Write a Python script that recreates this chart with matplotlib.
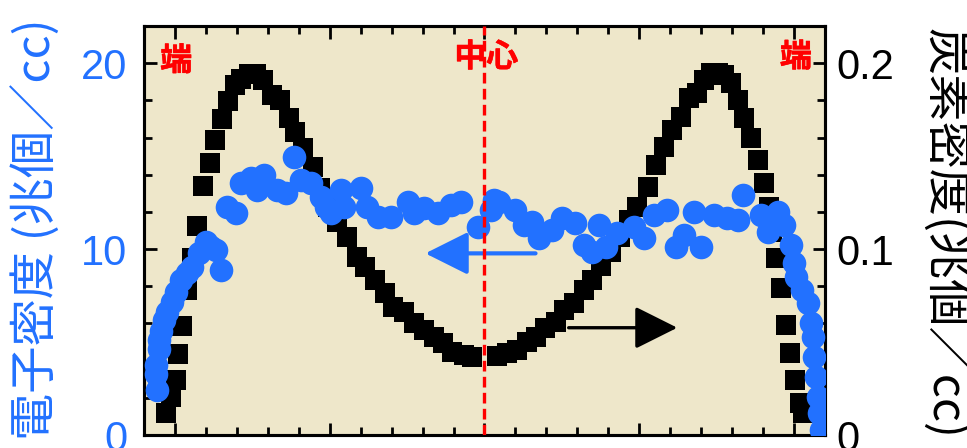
import numpy as np
import matplotlib
matplotlib.use("Agg")
import matplotlib.pyplot as plt
import matplotlib.patheffects as pe
from matplotlib.ticker import MultipleLocator

plt.rcParams['font.family'] = ['Liberation Sans', 'Noto Sans CJK JP', 'DejaVu Sans']

# carbon density (right axis)
carbon_x = [-10.30, -10.13, -9.97, -9.90, -9.77, -9.61, -9.44, -9.28, -9.09, -8.88,
            -8.71, -8.49, -8.28, -8.07, -7.85, -7.61, -7.39, -7.14, -6.87, -6.60,
            -6.33, -6.12, -5.85, -5.54, -5.31, -5.04, -4.76, -4.44, -4.12, -3.85,
            -3.53, -3.20, -2.94, -2.61, -2.29, -1.96, -1.64, -1.34, -1.05, -0.67,
            -0.40, 0.39, 0.73, 1.06, 1.38, 1.65, 1.97, 2.30, 2.57, 2.89,
            3.21, 3.49, 3.75, 4.08, 4.37, 4.67, 4.94, 5.27, 5.53, 5.80,
            6.07, 6.34, 6.61, 6.88, 7.10, 7.31, 7.53, 7.74, 7.96, 8.18,
            8.39, 8.61, 8.83, 9.02, 9.20, 9.30, 9.42, 9.58, 9.74, 9.88,
            10.03, 10.18, 10.28]
carbon_y = [0.0118, 0.0204, 0.0296, 0.0435, 0.0586, 0.0780, 0.0952, 0.1124, 0.1339, 0.1462,
            0.1586, 0.1699, 0.1796, 0.1882, 0.1914, 0.1941, 0.1941, 0.1909, 0.1828, 0.1801,
            0.1704, 0.1629, 0.1543, 0.1441, 0.1328, 0.1226, 0.1145, 0.1065, 0.0957, 0.0903,
            0.0833, 0.0763, 0.0688, 0.0661, 0.0602, 0.0565, 0.0527, 0.0495, 0.0446, 0.0430,
            0.0419, 0.0425, 0.0441, 0.0457, 0.0500, 0.0527, 0.0575, 0.0608, 0.0672, 0.0710,
            0.0780, 0.0833, 0.0909, 0.0984, 0.1065, 0.1156, 0.1226, 0.1333, 0.1452, 0.1548,
            0.1640, 0.1710, 0.1812, 0.1839, 0.1909, 0.1946, 0.1946, 0.1935, 0.1892, 0.1801,
            0.1704, 0.1597, 0.1478, 0.1355, 0.1226, 0.1091, 0.0952, 0.0790, 0.0591, 0.0441,
            0.0296, 0.0172, 0.0118]

# electron density (left axis)
elec_x = [-10.57, -10.62, -10.60, -10.52, -10.52, -10.45, -10.36, -10.25, -10.09, -9.95,
          -9.82, -9.60, -9.44, -9.22, -9.01, -8.85, -8.68, -8.52, -8.31, -8.04,
          -7.87, -7.55, -7.34, -7.12, -6.69, -6.42, -6.15, -5.93, -5.61, -5.28,
          -5.12, -4.96, -4.64, -4.53, -3.99, -3.78, -3.45, -3.02, -2.48, -2.27,
          -1.94, -1.51, -1.08, -0.75, -0.22, 0.22, 0.32, 0.46, 1.00, 1.27,
          1.54, 1.76, 2.19, 2.51, 2.94, 3.21, 3.49, 3.70, 3.92, 4.29,
          4.83, 5.16, 5.48, 5.91, 6.18, 6.45, 6.77, 6.99, 7.42, 7.85,
          8.18, 8.34, 8.93, 9.15, 9.47, 9.69, 9.90, 10.01, 10.06, 10.25,
          10.44, 10.55, 10.60, 10.66, 10.71, 10.77, 10.82, 10.87]
elec_y = [2.42, 3.30, 3.76, 4.60, 5.11, 5.60, 6.18, 6.60, 7.17, 7.70,
          8.33, 8.70, 9.05, 9.77, 10.39, 10.10, 9.95, 8.87, 12.27, 11.92,
          13.53, 13.80, 13.17, 13.98, 13.17, 13.00, 14.96, 13.71, 13.53, 12.81,
          12.27, 11.92, 13.17, 12.27, 13.26, 12.27, 11.74, 11.74, 12.54, 11.92,
          12.19, 11.92, 12.37, 12.54, 11.20, 12.10, 12.63, 12.54, 12.10, 11.29,
          11.47, 10.58, 11.02, 11.65, 11.38, 10.22, 9.86, 11.29, 10.12, 10.84,
          11.20, 10.58, 11.83, 12.10, 10.12, 10.75, 12.01, 10.12, 11.83, 11.65,
          11.56, 12.90, 11.83, 10.93, 12.01, 11.30, 10.20, 9.23, 8.50, 7.80,
          7.08, 6.00, 5.28, 4.21, 3.13, 2.06, 1.17, 0.27]

blue = '#2271FF'
bg = '#EEE7CA'

fig = plt.figure(figsize=(9.67, 4.48), dpi=100)
ax = fig.add_axes([0.1489, 0.029, 0.7042, 0.913])
ax2 = ax.twinx()
ax.set_facecolor(bg)

# black squares on the bottom axes (right scale), blue circles on the twin
ax.plot(carbon_x, carbon_y, 's', ms=15, color='black', mew=0, zorder=3)
ax2.plot(elec_x, elec_y, 'o', ms=17, color=blue, mew=0, zorder=3)

ax.set_xlim(-11, 11)
ax.set_ylim(0, 0.22)
ax2.set_ylim(0, 22)

ax.yaxis.tick_right()
ax2.yaxis.tick_left()

ax.set_xticks([-10, -5, 0, 5, 10])
ax.xaxis.set_minor_locator(MultipleLocator(1))
ax.set_yticks([0, 0.1, 0.2])
ax.set_yticklabels(['0', '0.1', '0.2'])
ax.yaxis.set_minor_locator(MultipleLocator(0.02))
ax2.set_yticks([0, 10, 20])
ax2.yaxis.set_minor_locator(MultipleLocator(2))

for a in (ax, ax2):
    a.tick_params(which='major', direction='in', length=9, width=2, labelsize=30, pad=10)
    a.tick_params(which='minor', direction='in', length=5.5, width=2)
    for s in a.spines.values():
        s.set_linewidth(2.2)
ax.tick_params(axis='x', which='both', top=True, bottom=True, labelbottom=False)
ax2.tick_params(axis='y', which='both', labelcolor=blue, pad=12)
ax.tick_params(axis='y', which='both', pad=8)

# center line and markers
ax2.axvline(0, color='red', lw=2.4, dashes=(3.2, 1.6), zorder=10)
jp = ['Noto Sans CJK JP']
thick = [pe.withStroke(linewidth=0.4, foreground='red')]
ax2.text(-9.96, 20.1, '端', color='red', fontsize=23, fontweight='bold', family=jp,
         ha='center', va='center', zorder=11, path_effects=thick)
ax2.text(0.06, 20.3, '中心', color='red', fontsize=23, fontweight='bold', family=jp,
         ha='center', va='center', zorder=11, path_effects=thick)
ax2.text(10.06, 20.3, '端', color='red', fontsize=23, fontweight='bold', family=jp,
         ha='center', va='center', zorder=11, path_effects=thick)

# arrows pointing to their axis
ax2.annotate('', xy=(-1.91, 9.77), xytext=(1.65, 9.77),
             arrowprops=dict(arrowstyle='-|>,head_length=0.4,head_width=0.2',
                             mutation_scale=66, lw=3, color=blue,
                             shrinkA=0, shrinkB=0), zorder=5)
ax.annotate('', xy=(6.23, 0.0577), xytext=(2.72, 0.0577),
            arrowprops=dict(arrowstyle='-|>,head_length=0.4,head_width=0.2',
                            mutation_scale=66, lw=2.4, color='black',
                            shrinkA=0, shrinkB=0), zorder=5)

fig.text(37 / 967, 1 - 229 / 448, '電子密度 (兆個／cc)', color=blue, fontsize=34,
         family=jp, rotation=90, ha='center', va='center')
fig.text(944 / 967, 1 - 233 / 448, '炭素密度(兆個／cc)', color='black', fontsize=34,
         family=jp, rotation=270, ha='center', va='center')

fig.savefig('out.png', dpi=100)
